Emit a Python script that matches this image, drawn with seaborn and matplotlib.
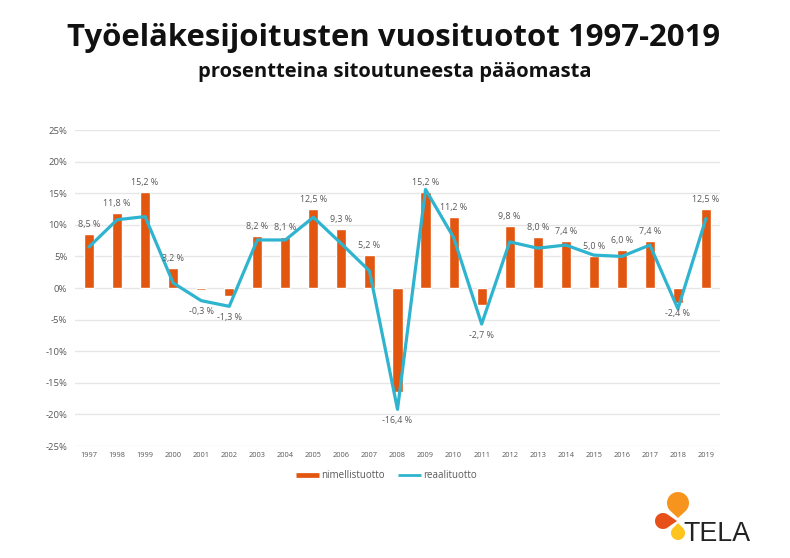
import numpy as np
import pandas as pd
import seaborn as sns
import matplotlib
matplotlib.use("Agg")
import matplotlib.pyplot as plt
from matplotlib.lines import Line2D
from matplotlib.patches import Polygon

years = [str(y) for y in range(1997, 2020)]
nominal = [8.5, 11.8, 15.2, 3.2, -0.3, -1.3, 8.2, 8.1, 12.5, 9.3, 5.2, -16.4,
           15.2, 11.2, -2.7, 9.8, 8.0, 7.4, 5.0, 6.0, 7.4, -2.4, 12.5]
real = [6.5, 10.8, 11.3, 0.8, -2.0, -2.9, 7.6, 7.6, 11.2, 7.0, 2.7, -19.2,
        15.6, 8.0, -5.7, 7.3, 6.3, 6.8, 5.2, 5.0, 6.8, -3.3, 11.0]
y_ticks = [25, 20, 15, 10, 5, 0, -5, -10, -15, -20, -25]
title = "Työeläkesijoitusten vuosituotot 1997-2019"
subtitle = "prosentteina sitoutuneesta pääomasta"
bar_name = "nimellistuotto"
line_name = "reaalituotto"

ORANGE = "#e2560f"
BLUE = "#2fb4cf"
GREY = "#595959"

sns.set_theme(style="white")
plt.rcParams["font.family"] = ["Open Sans", "DejaVu Sans"]

W, H = 790, 558
fig = plt.figure(figsize=(W / 100, H / 100), dpi=100, facecolor="white")
ax = fig.add_axes([75 / W, 1 - 446 / H, 645 / W, 316 / H])

df = pd.DataFrame({"year": years, "nominal": nominal, "real": real})
sns.barplot(data=df, x="year", y="nominal", color=ORANGE, saturation=1,
            width=0.36, ax=ax, zorder=2)
sns.lineplot(data=df, x="year", y="real", color=BLUE, linewidth=2.3, ax=ax,
             zorder=3, sort=False, errorbar=None)

ax.set_xlim(-0.5, len(years) - 0.5)
ax.set_ylim(-25, 25)
ax.set_yticks(y_ticks)
ax.set_yticklabels([f"{t}%" for t in y_ticks], fontsize=6.8, color=GREY)
ax.tick_params(axis="y", length=0, pad=5.5)
ax.tick_params(axis="x", length=0, pad=4.5, labelsize=5.3, labelcolor=GREY)
ax.set_xlabel("")
ax.set_ylabel("")
ax.grid(axis="y", color="#e6e6e6", linewidth=1)
ax.set_axisbelow(True)
for s in ax.spines.values():
    s.set_visible(False)

for i, (n, r) in enumerate(zip(nominal, real)):
    txt = f"{n:.1f} %".replace(".", ",")
    if n >= 0:
        base, off = n, 9.5
    elif years[i] == "2018":
        base, off = n, -10
    else:
        base, off = min(n, r), -11
    ax.annotate(txt, (i, base), xytext=(0, off * 0.72), textcoords="offset points",
                ha="center", va="center", fontsize=6.4, color=GREY, zorder=4)

handles = [Line2D([], [], color=ORANGE, lw=3.4, solid_capstyle="butt"),
           Line2D([], [], color=BLUE, lw=2, solid_capstyle="butt")]
fig.legend(handles, [bar_name, line_name], loc="center", ncol=2,
           bbox_to_anchor=(386.5 / W, 1 - 476 / H), frameon=False, fontsize=7,
           labelcolor=GREY, handlelength=2.3, handletextpad=0.2, columnspacing=1.45)

fig.text(394 / W, 1 - 38 / H, title, ha="center", va="center", fontsize=22.4,
         fontweight="bold", color="#111111")
fig.text(395 / W, 1 - 72.5 / H, subtitle, ha="center", va="center", fontsize=14.5,
         fontweight="bold", color="#111111")

# TELA logo, in figure pixel coordinates
logo = fig.add_axes([0, 0, 1, 1], facecolor="none")
logo.set_xlim(0, W)
logo.set_ylim(H, 0)
logo.axis("off")


def drop(cx, cy, r, tx, ty, color):
    d = np.hypot(tx - cx, ty - cy)
    a = np.arctan2(ty - cy, tx - cx)
    half = np.arccos(r / d)
    t = np.linspace(a + half, a + 2 * np.pi - half, 50)
    pts = np.column_stack([cx + r * np.cos(t), cy + r * np.sin(t)])
    logo.add_patch(Polygon(np.vstack([pts, [tx, ty]]), closed=True, color=color, lw=0))


drop(678, 503, 11, 678, 518, "#f7941d")
drop(663, 521, 8, 677, 521, "#e8501a")
drop(678, 533, 7, 678, 523, "#fcc41c")
logo.text(683, 541, "TELA", fontsize=19.3, color="#222222", ha="left", va="baseline",
          family=["Liberation Sans"])

fig.savefig("out.png", dpi=100)
